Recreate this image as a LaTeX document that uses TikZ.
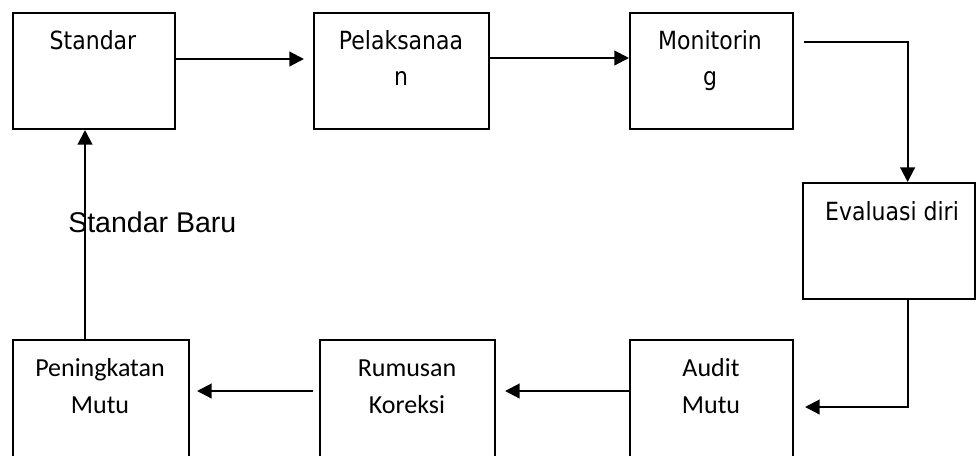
\documentclass[tikz,border=0pt]{standalone}
\usepackage{fontspec}
\usetikzlibrary{arrows.meta}
\newfontfamily\tahfont[FakeStretch=0.88]{DejaVu Sans}
\newfontfamily\calfont{Carlito}
\newfontfamily\arifont{Liberation Sans}
\begin{document}
\begin{tikzpicture}[x=0.75pt,y=-0.75pt,
  box/.style={draw, line width=1.5pt, rectangle, inner sep=0pt, anchor=north west},
  arr/.style={line width=1.6pt, -{Triangle[length=11pt,width=11pt]}},
  ttxt/.style={anchor=base, inner sep=0pt, font=\tahfont\fontsize{18.75}{22}\selectfont},
  ctxt/.style={anchor=base, inner sep=0pt, font=\calfont\fontsize{19.5}{23}\selectfont},
  atxt/.style={anchor=base west, inner sep=0pt, font=\arifont\fontsize{21.4}{25}\selectfont}]
\useasboundingbox (0,0) rectangle (976,455);
\clip (0,0) rectangle (976,455);
% boxes
\node[box, minimum width=121.5pt, minimum height=87pt] (std) at (12,12) {};
\node[box, minimum width=131.25pt, minimum height=87pt] (pel) at (313,12) {};
\node[box, minimum width=122.25pt, minimum height=87pt] (mon) at (629,12) {};
\node[box, minimum width=129.2pt, minimum height=87pt] (eva) at (802,182) {};
\node[box, minimum width=122.25pt, minimum height=100.5pt] (aud) at (629,339) {};
\node[box, minimum width=131.25pt, minimum height=100.5pt] (rum) at (319,339) {};
\node[box, minimum width=132pt, minimum height=100.5pt] (pen) at (12,339) {};
% texts
\node[ttxt] (std-t) at (93,49) {Standar};
\node[ttxt] (pel-t1) at (401,49) {Pelaksanaa};
\node[ttxt] (pel-t2) at (401,85) {n};
\node[ttxt] (mon-t1) at (710,49) {Monitorin};
\node[ttxt] (mon-t2) at (710,85) {g};
\node[ttxt] (eva-t) at (892,220) {Evaluasi diri};
\node[ctxt] (aud-t1) at (711,376) {Audit};
\node[ctxt] (aud-t2) at (711,413) {Mutu};
\node[ctxt] (rum-t1) at (407,376) {Rumusan};
\node[ctxt] (rum-t2) at (407,413) {Koreksi};
\node[ctxt] (pen-t1) at (100,376) {Peningkatan};
\node[ctxt] (pen-t2) at (100,413) {Mutu};
\node[atxt] (baru) at (68,232) {Standar Baru};
% connectors
\draw[arr] ([shift={(0,-12)}]std.east) -- ([shift={(-9,-12)}]pel.west);
\draw[arr] ([shift={(0,-13)}]pel.east) -- ([shift={(0,-13)}]mon.west);
\draw[arr] ([shift={(10,30)}]mon.north east) -| ([shift={(18.5,0)}]eva.north);
\draw[arr] ([shift={(18.5,0)}]eva.south) |- ([shift={(11,0)}]aud.east);
\draw[arr] ([shift={(0,-16)}]aud.west) -- ([shift={(9,-16)}]rum.east);
\draw[arr] ([shift={(-6,-16)}]rum.west) -- ([shift={(7,-16)}]pen.east);
\coordinate (pu) at ([shift={(-16,0)}]pen.north);
\draw[arr] (pu) -- (pu |- std.south);
\end{tikzpicture}
\end{document}
